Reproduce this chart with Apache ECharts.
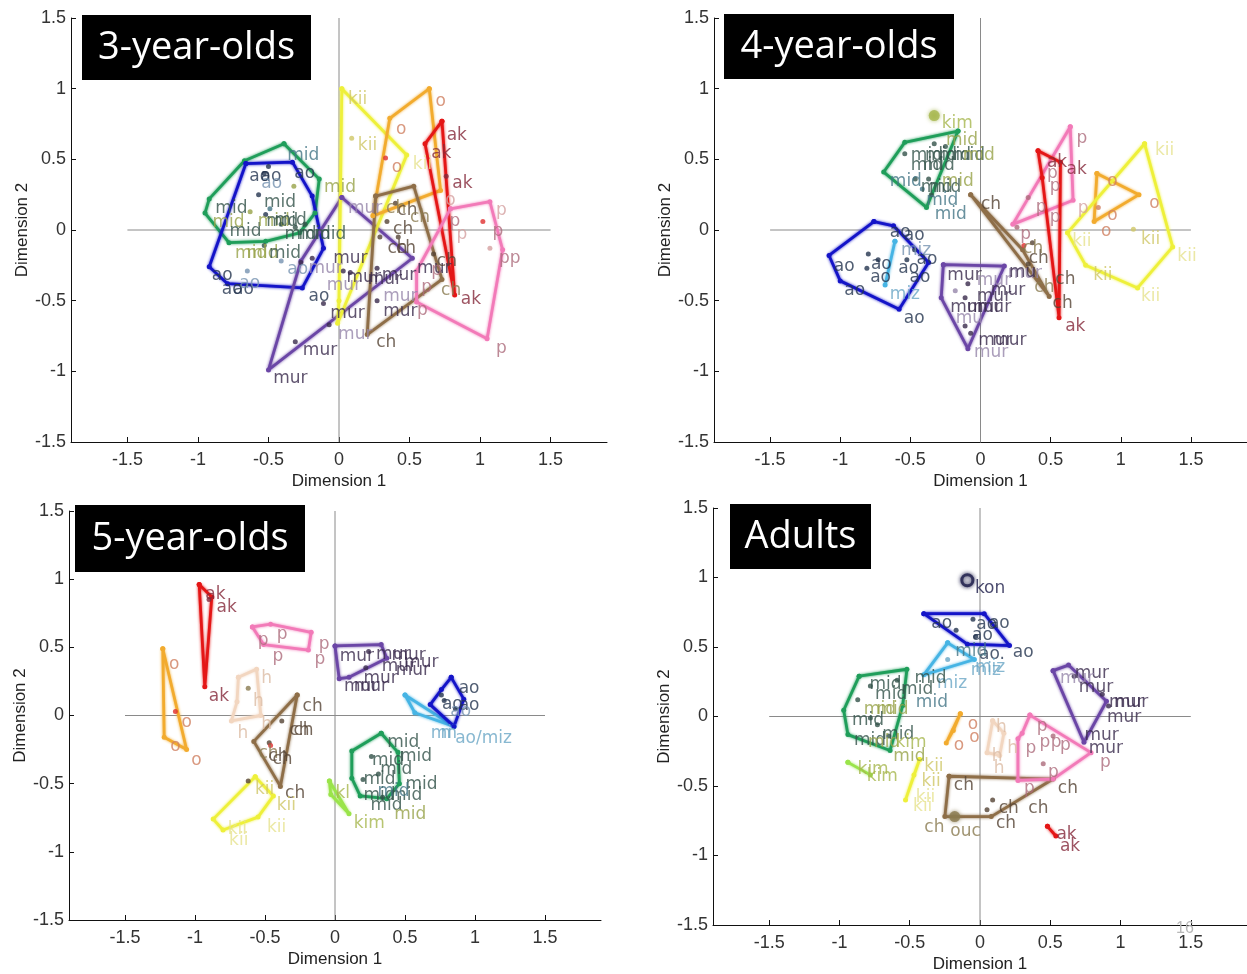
<!DOCTYPE html>
<html>
<head>
<meta charset="utf-8">
<title>MDS - 3/4/5-year-olds, Adults</title>
<style>
	html, body { margin: 0; padding: 0; background: #fff; }
	#main { width: 1247px; height: 974px; }
</style>
</head>
<body>
<div id="main"></div>
<script src="https://cdn.jsdelivr.net/npm/echarts@6/dist/echarts.min.js"></script>
<script>
	var tickVals = [-1.5, -1, -0.5, 0, 0.5, 1, 1.5];
	var panelTitles = ['3-year-olds', '4-year-olds', '5-year-olds', 'Adults'];

	// ---- 3-year-olds ----
	var hulls3 = [
		['mid', [[-0.39,0.61],[-0.14,0.36],[-0.17,0.12],[-0.28,-0.02],[-0.52,-0.08],[-0.78,-0.09],[-0.95,0.12],[-0.92,0.22],[-0.67,0.49]]],
		['ao', [[-0.66,0.47],[-0.33,0.48],[-0.19,0.24],[-0.11,-0.13],[-0.26,-0.41],[-0.79,-0.38],[-0.92,-0.26]]],
		['mur', [[0.02,0.23],[0.52,-0.20],[-0.50,-0.99],[-0.27,-0.22]]],
		['kii', [[0.02,1.0],[0.48,0.53],[-0.01,-0.66],[0.0,-0.5]]],
		['o', [[0.64,1.0],[0.36,0.79],[0.24,0.10],[0.72,0.28]]],
		['ak', [[0.73,0.77],[0.61,0.61],[0.82,-0.46]]],
		['ch', [[0.26,0.24],[0.53,0.31],[0.73,-0.35],[0.20,-0.74]]],
		['p', [[0.79,0.15],[1.07,0.20],[1.16,-0.14],[1.05,-0.77],[0.55,-0.51],[0.55,-0.29]]]
	];
	var dots3 = [
		[-0.50,0.45,'ao'],[-0.53,0.40,'ao'],[-0.57,0.25,'ao'],[-0.63,0.13,'mid2'],[-0.52,0.11,'ao'],[-0.49,0.15,'mid3'],
		[-0.32,0.31,'mid2'],[-0.41,0.04,'mid'],[-0.31,0.02,'mid'],[-0.24,0.04,'mid'],[-0.53,-0.11,'mid'],
		[-0.41,-0.22,'ao2'],[-0.65,-0.29,'ao2'],[-0.19,-0.20,'mur'],[-0.27,-0.23,'mur'],[-0.11,-0.52,'mur'],
		[-0.07,-0.67,'mur'],[-0.31,-0.79,'mur'],[0.09,0.65,'kii'],[0.33,0.51,'red'],[0.40,0.19,'ch'],[0.34,0.06,'ch'],
		[0.29,-0.05,'ch'],[0.42,-0.05,'ch'],[0.67,-0.17,'ch'],[0.76,0.38,'ak'],[1.02,0.06,'red'],[1.07,-0.13,'p2'],
		[0.27,-0.27,'mur'],[0.08,-0.30,'mur'],[0.03,-0.29,'mur'],[0.27,-0.50,'mur']
	];
	var big3 = [];
	var labels3 = [
		[-0.37,0.53,'mid','mid3'],[-0.64,0.38,'ao','ao'],[-0.56,0.38,'ao','ao'],[-0.32,0.40,'ao','ao'],[-0.555,0.33,'ao','ao2'],
		[-0.535,0.195,'mid','mid'],[-0.88,0.155,'mid','mid'],[-0.11,0.30,'mid','mid2'],[-0.90,0.05,'mid','mid2'],
		[-0.78,-0.01,'mid','mid'],[-0.58,0.06,'mid','mid2'],[-0.52,0.06,'mid','mid'],[-0.46,0.07,'mid','mid'],
		[-0.39,-0.03,'mid','mid'],[-0.29,-0.03,'mid','mid'],[-0.18,-0.03,'mid','mid'],
		[-0.74,-0.17,'mid','mid2'],[-0.66,-0.17,'mid','mid2'],[-0.50,-0.17,'mid','mid'],
		[-0.905,-0.32,'ao','ao'],[-0.835,-0.42,'ao','ao'],[-0.755,-0.42,'ao','ao'],[-0.71,-0.38,'ao','ao2'],
		[-0.37,-0.28,'ao','ao2'],[-0.22,-0.47,'ao','ao'],
		[-0.045,-0.20,'mur','mur'],[-0.065,-0.59,'mur','mur'],[-0.01,-0.74,'mur','mur2'],[-0.26,-0.85,'mur','mur'],
		[-0.47,-1.05,'mur','mur'],[-0.09,-0.39,'mur','mur2'],[0.05,-0.34,'mur','mur'],[0.20,-0.35,'mur','mur'],
		[0.30,-0.32,'mur','mur'],[0.31,-0.58,'mur','mur'],[0.31,-0.47,'mur','mur2'],[0.06,0.15,'mur','mur2'],
		[0.55,-0.27,'mur','mur'],[-0.22,-0.27,'mur','mur2'],
		[0.06,0.92,'kii','kii'],[0.13,0.60,'kii','kii'],[0.52,0.46,'kii','kii2'],
		[0.40,0.71,'o','o'],[0.37,0.44,'o','o'],[0.68,0.91,'o','o'],[0.75,0.21,'o','p2'],
		[0.76,0.67,'ak','ak'],[0.65,0.54,'ak','ak'],[0.80,0.33,'ak','ak'],[0.86,-0.49,'ak','ak'],
		[0.33,0.15,'ch','ch2'],[0.41,0.14,'ch','ch'],[0.38,0.005,'ch','ch'],[0.34,-0.13,'ch','ch'],[0.40,-0.13,'ch','ch'],
		[0.26,-0.80,'ch','ch'],[0.50,0.09,'ch','ch2'],[0.69,-0.22,'ch','ch'],[0.72,-0.43,'ch','ch2'],
		[1.11,0.135,'p','p2'],[1.085,-0.01,'p','p'],[1.13,-0.20,'pp','p'],[1.11,-0.84,'p','p'],[0.83,-0.03,'p','p2'],
		[0.58,-0.41,'p','p'],[0.55,-0.57,'p','p'],[0.78,0.06,'p','p'],[0.65,-0.29,'p','p']
	];

	// ---- 4-year-olds ----
	var hulls4 = [
		['mid', [[-0.16,0.70],[-0.54,0.62],[-0.69,0.41],[-0.385,0.16]]],
		['ao', [[-0.76,0.06],[-0.62,0.03],[-0.37,-0.23],[-0.58,-0.56],[-1.00,-0.36],[-1.08,-0.18]]],
		['miz', [[-0.61,-0.08],[-0.68,-0.39]]],
		['mur', [[-0.265,-0.245],[0.17,-0.255],[-0.09,-0.84],[-0.28,-0.48]]],
		['ch', [[-0.07,0.25],[0.49,-0.47],[0.30,-0.14]]],
		['p', [[0.64,0.73],[0.66,0.21],[0.23,0.04]]],
		['ak', [[0.41,0.56],[0.57,0.48],[0.56,-0.62],[0.44,0.37]]],
		['o', [[0.83,0.40],[1.13,0.25],[0.81,0.06]]],
		['kii', [[1.17,0.61],[1.37,-0.12],[1.12,-0.41],[0.75,-0.25],[0.62,-0.02]]]
	];
	var dots4 = [
		[-0.54,0.54,'mid'],[-0.33,0.61,'mid'],[-0.25,0.59,'mid'],[-0.465,0.36,'mid'],[-0.37,0.36,'mid'],[-0.415,0.29,'mid3'],[-0.35,0.25,'mid'],
		[-0.80,-0.17,'ao'],[-0.81,-0.27,'ao'],[-0.73,-0.21,'ao'],[-0.525,-0.21,'ao'],[-0.47,-0.14,'ao'],
		[-0.09,-0.38,'mur'],[-0.18,-0.43,'mur2'],[-0.11,-0.48,'mur'],[-0.11,-0.68,'mur'],[-0.07,-0.73,'mur'],
		[0.31,-0.11,'red'],[0.37,-0.09,'ch'],[0.34,-0.24,'ch'],[0.34,0.23,'p'],[0.26,0.02,'p'],
		[0.84,0.16,'o'],[1.09,0.005,'kii']
	];
	var big4 = [[-0.33,0.81,'kim']];
	var labels4 = [
		[-0.28,0.75,'kim','kim'],[-0.25,0.63,'mid','mid2'],[-0.50,0.53,'mid','mid'],[-0.40,0.53,'mid','mid'],
		[-0.30,0.53,'mid','mid'],[-0.20,0.53,'mid','mid'],[-0.13,0.53,'mid','mid2'],[-0.50,0.455,'mid','mid'],
		[-0.415,0.455,'mid','mid'],[-0.65,0.34,'mid','mid3'],[-0.43,0.30,'mid','mid'],[-0.28,0.34,'mid','mid2'],
		[-0.37,0.30,'mid','mid'],[-0.39,0.21,'mid','mid3'],[-0.33,0.11,'mid','mid3'],
		[0.0,0.18,'ch','ch'],
		[-0.65,-0.02,'ao','ao'],[-0.55,-0.04,'ao','ao'],[-0.57,-0.145,'miz','ao2'],[-0.46,-0.21,'ao','ao'],
		[-1.05,-0.26,'ao','ao'],[-0.785,-0.245,'ao','ao'],[-0.59,-0.27,'ao','ao'],[-0.79,-0.34,'ao','ao'],
		[-0.975,-0.43,'ao','ao'],[-0.65,-0.46,'miz','miz'],[-0.55,-0.625,'ao','ao'],[-0.51,-0.335,'ao','ao'],
		[-0.24,-0.32,'mur','mur'],[-0.03,-0.36,'mur','mur2'],[0.19,-0.31,'mur','mur2'],[-0.03,-0.47,'mur','mur'],
		[-0.22,-0.55,'mur','mur'],[-0.10,-0.55,'mur','mur'],[-0.03,-0.55,'mur','mur'],[-0.18,-0.63,'mu','mur2'],
		[-0.02,-0.78,'mur','mur'],[-0.05,-0.87,'mur','mur2'],[0.08,-0.78,'mur','mur'],[0.07,-0.43,'mur','mur'],
		[0.20,-0.30,'mu','mur'],
		[0.34,-0.20,'ch','ch'],[0.53,-0.35,'ch','ch'],[0.38,-0.41,'ch','ch2'],[0.51,-0.52,'ch','ch'],[0.30,-0.13,'ch','ch2'],
		[0.68,0.65,'p','p'],[0.49,0.31,'p','p'],[0.39,0.16,'p','p'],[0.69,0.15,'p','p2'],[0.49,0.09,'p','p'],
		[0.47,0.40,'p','p'],[0.28,-0.03,'p','p'],
		[0.47,0.48,'ak','ak'],[0.61,0.43,'ak','ak'],[0.60,-0.68,'ak','ak'],
		[0.90,0.34,'o','o'],[1.20,0.19,'o','o'],[0.90,0.10,'o','o'],[0.855,-0.01,'o','o'],
		[1.24,0.56,'kii','kii2'],[1.14,-0.07,'kii','kii'],[0.65,-0.08,'kii','kii2'],[1.40,-0.185,'kii','kii2'],
		[0.80,-0.32,'kii','kii'],[1.14,-0.47,'kii','kii2']
	];

	// ---- 5-year-olds ----
	var hulls5 = [
		['ak', [[-0.97,0.96],[-0.88,0.87],[-0.93,0.21]]],
		['o', [[-1.23,0.49],[-1.22,-0.16],[-1.06,-0.25]]],
		['p', [[-0.59,0.65],[-0.46,0.67],[-0.17,0.61],[-0.19,0.48],[-0.51,0.52]]],
		['h', [[-0.69,0.28],[-0.56,0.34],[-0.53,0.0],[-0.74,-0.04],[-0.70,0.10]]],
		['ch', [[-0.27,0.15],[-0.58,-0.19],[-0.39,-0.52]]],
		['kii', [[-0.57,-0.45],[-0.44,-0.59],[-0.55,-0.745],[-0.80,-0.84],[-0.87,-0.76]]],
		['kim', [[-0.04,-0.48],[0.10,-0.72],[-0.03,-0.58]]],
		['mur', [[0.0,0.51],[0.33,0.52],[0.37,0.42],[0.10,0.28],[0.03,0.27]]],
		['miz', [[0.50,0.15],[0.85,-0.08],[0.57,0.02]]],
		['ao', [[0.83,0.28],[0.92,0.12],[0.85,-0.08],[0.68,0.08],[0.76,0.19]]],
		['mid', [[0.33,-0.13],[0.45,-0.27],[0.46,-0.50],[0.37,-0.61],[0.18,-0.59],[0.12,-0.46],[0.12,-0.26]]]
	];
	var dots5 = [
		[-0.90,0.85,'ak'],[-1.14,0.03,'red'],[-0.62,0.20,'ch2'],[-0.38,-0.04,'ch'],[-0.47,-0.20,'ch'],[-0.46,-0.22,'red'],
		[-0.62,-0.48,'ch'],[0.24,0.47,'mur'],[0.22,0.35,'mur'],[0.76,0.15,'ao'],[0.78,0.11,'ao'],[0.86,0.05,'ao'],
		[0.26,-0.30,'mid'],[0.20,-0.47,'mid'],[0.31,-0.43,'mid'],[0.34,-0.60,'mid']
	];
	var big5 = [];
	var labels5 = [
		[-0.93,0.885,'ak','ak'],[-0.85,0.79,'ak','ak'],[-0.905,0.136,'ak','ak'],
		[-1.19,0.37,'o','o'],[-1.10,-0.055,'o','o'],[-1.18,-0.23,'o','o'],[-1.03,-0.33,'o','o'],
		[-0.555,0.55,'p','p'],[-0.42,0.59,'p','p'],[-0.45,0.43,'p','p'],[-0.12,0.52,'p','p'],[-0.15,0.41,'p','p'],
		[-0.53,0.27,'h','h'],[-0.59,0.10,'h','h'],[-0.53,-0.07,'h','h'],[-0.70,-0.13,'h','h'],
		[-0.235,0.064,'ch','ch'],[-0.33,-0.11,'ch','ch'],[-0.30,-0.11,'ch','ch'],[-0.55,-0.28,'ch','ch2'],
		[-0.45,-0.32,'ch','ch'],[-0.48,-0.30,'ch','ch'],[-0.36,-0.57,'ch','ch'],
		[-0.575,-0.54,'kii','kii'],[-0.42,-0.66,'kii','kii'],[-0.49,-0.82,'kii','kii2'],[-0.76,-0.92,'kii','kii2'],[-0.77,-0.84,'kii','kii2'],
		[0.0,-0.57,'kl','kim'],[0.13,-0.79,'kim','kim'],
		[0.37,-0.20,'mid','mid'],[0.46,-0.30,'mid','mid'],[0.26,-0.33,'mid','mid'],[0.32,-0.40,'mid','mid'],
		[0.20,-0.47,'mid','mid'],[0.50,-0.51,'mid','mid'],[0.39,-0.59,'mid','mid'],[0.20,-0.59,'mid','mid'],
		[0.25,-0.66,'mid','mid'],[0.42,-0.73,'mid','mid2'],[0.30,-0.56,'mid','mid3'],
		[0.03,0.43,'mur','mur'],[0.29,0.445,'mur','mur'],[0.40,0.44,'mur','mur'],[0.49,0.385,'mur','mur'],
		[0.43,0.33,'mur','mur'],[0.33,0.36,'mur','mur'],[0.20,0.27,'mur','mur'],[0.06,0.21,'mur','mur'],[0.13,0.21,'mur','mur'],
		[0.88,0.195,'ao','ao'],[0.88,0.07,'ao','ao'],[0.76,0.08,'ao','ao'],[0.82,0.03,'ao','ao2'],
		[0.855,-0.17,'ao/miz','miz'],[0.68,-0.13,'mi','miz'],[0.75,-0.13,'m','miz']
	];

	// ---- Adults ----
	var hullsA = [
		['ao', [[-0.40,0.74],[0.03,0.74],[0.21,0.51],[-0.09,0.52]]],
		['miz', [[-0.23,0.53],[-0.40,0.30],[-0.04,0.41]]],
		['mid', [[-0.86,0.29],[-0.52,0.34],[-0.55,0.08],[-0.64,-0.245],[-0.94,-0.13],[-0.97,0.045]]],
		['kim', [[-0.94,-0.33],[-0.78,-0.42]]],
		['o', [[-0.14,0.02],[-0.24,-0.19],[-0.19,-0.10]]],
		['kii', [[-0.43,-0.31],[-0.53,-0.60],[-0.47,-0.42]]],
		['h', [[0.09,-0.03],[0.17,-0.12],[0.14,-0.28],[0.05,-0.26]]],
		['ch', [[-0.22,-0.43],[0.52,-0.45],[0.08,-0.72],[-0.25,-0.72]]],
		['p', [[0.355,0.01],[0.79,-0.26],[0.52,-0.45],[0.27,-0.46],[0.27,-0.16],[0.30,-0.12]]],
		['mur', [[0.52,0.33],[0.63,0.37],[0.90,0.11],[0.74,-0.185]]],
		['ak', [[0.48,-0.79],[0.54,-0.86]]]
	];
	var dotsA = [
		[-0.17,0.62,'ao'],[-0.05,0.70,'ao'],[-0.03,0.575,'ao'],[-0.23,0.41,'miz'],
		[-0.78,0.22,'mid'],[-0.59,0.26,'mid'],[-0.87,0.12,'mid'],[-0.73,-0.06,'mid'],[-0.78,-0.01,'mid'],[-0.65,-0.14,'mid'],
		[0.09,-0.60,'ch'],[0.05,-0.67,'ch'],[0.52,-0.14,'p'],[0.45,-0.34,'p'],
		[0.67,0.29,'mur'],[0.87,0.16,'mur'],[0.915,0.076,'mur']
	];
	var bigA = [[-0.09,0.98,'kon'],[-0.18,-0.72,'ch2']];
	var labelsA = [
		[-0.04,0.92,'kon','kon'],
		[-0.35,0.67,'ao','ao'],[-0.03,0.66,'ao','ao'],[0.06,0.67,'ao','ao'],[-0.06,0.58,'ao','ao'],[0.23,0.46,'ao','ao'],[-0.01,0.445,'ao.','ao'],
		[-0.18,0.47,'mid','mid3'],[-0.04,0.35,'miz','miz'],[-0.07,0.33,'miz','miz'],[-0.31,0.24,'miz','miz'],
		[-0.79,0.23,'mid','mid'],[-0.47,0.27,'mid','mid'],[-0.75,0.16,'mid','mid'],[-0.565,0.195,'mid','mid'],
		[-0.46,0.10,'mid','mid3'],[-0.83,0.05,'mid','mid2'],[-0.74,0.05,'mid','mid2'],[-0.915,-0.03,'mid','mid'],
		[-0.70,-0.13,'mid','mid'],[-0.90,-0.17,'mid','mid'],[-0.80,-0.19,'mid','mid2'],[-0.62,-0.29,'mid','mid2'],
		[-0.605,-0.19,'kim','kim'],[-0.875,-0.38,'kim','kim'],[-0.81,-0.435,'kim','kim'],
		[-0.40,-0.36,'kii','kii'],[-0.42,-0.47,'kii','kii'],[-0.46,-0.58,'kii','kii2'],[-0.48,-0.65,'kii','kii2'],
		[-0.09,-0.055,'o','o'],[-0.08,-0.15,'o','o'],[-0.19,-0.21,'o','o'],
		[0.11,-0.08,'h','h'],[0.19,-0.23,'h','h'],[0.08,-0.29,'h','h'],[0.095,-0.375,'h','h'],
		[-0.19,-0.495,'ch','ch'],[0.55,-0.52,'ch','ch'],[0.34,-0.66,'ch','ch'],[0.13,-0.66,'ch','ch'],
		[0.11,-0.77,'ch','ch'],[-0.40,-0.80,'ch','ch2'],[-0.215,-0.83,'ouc','ch2'],
		[0.40,-0.07,'p','p'],[0.32,-0.23,'p','p'],[0.42,-0.19,'p','p'],[0.50,-0.19,'p','p'],[0.565,-0.21,'p','p'],
		[0.48,-0.40,'p','p'],[0.31,-0.52,'p','p'],[0.85,-0.33,'p','p'],
		[0.67,0.31,'mur','mur'],[0.565,0.27,'mur','mur2'],[0.70,0.21,'mur','mur'],[0.915,0.10,'mur','mur'],
		[0.95,0.10,'mur','mur'],[0.90,-0.01,'mur','mur'],[0.74,-0.14,'mur','mur'],[0.77,-0.23,'mur','mur'],
		[0.54,-0.85,'ak','ak'],[0.565,-0.935,'ak','ak']
	];

	var hullColor = {
		mid: '#1f9e5a', ao: '#1414c8', mur: '#6b46a6', kii: '#eef03a', o: '#f2ab2e', ak: '#e41616',
		ch: '#8e6e48', p: '#f27ab8', miz: '#46b4e4', kim: '#9ae44a', h: '#f2d6c0'
	};
	var inkColor = {
		mid: '#33524a', mid2: '#97a348', mid3: '#437686', ao: '#24344f', ao2: '#7692b0',
		mur: '#3a2a4c', mur2: '#9686aa', kii: '#cfc766', kii2: '#e6e28e', o: '#d08060',
		ak: '#85283a', ch: '#554434', ch2: '#8a7a50', p: '#ac6c7c', p2: '#d4a0a0',
		miz: '#6aa6c6', kim: '#a6b64e', h: '#dcbca4', kon: '#1c1c48', red: '#e03030'
	};

	var grids = [
		{left: 71, top: 18, width: 536, height: 424},
		{left: 714, top: 18, width: 536, height: 424},
		{left: 69, top: 511, width: 532, height: 409},
		{left: 713, top: 508, width: 537, height: 424}
	];
	var titleBoxes = [[82, 15, 229, 65], [724, 14, 230, 65], [75, 505, 230, 67], [730, 504, 141, 65]];
	var axisFont = 'Liberation Sans Narrow, Liberation Sans, sans-serif';

	function panelSeries(k, hulls, dots, big, labels) {
		var s = [];
		// 十字线
		s.push({type: 'line', xAxisIndex: k, yAxisIndex: k, data: [[-1.5, 0], [1.5, 0]], symbol: 'none',
			lineStyle: {color: '#8a8a8a', width: 1}, silent: true, z: 1});
		s.push({type: 'line', xAxisIndex: k, yAxisIndex: k, data: [[0, -1.5], [0, 1.5]], symbol: 'none',
			lineStyle: {color: '#8a8a8a', width: 1}, silent: true, z: 1});
		hulls.forEach(function (h) {
			var c = hullColor[h[0]];
			s.push({type: 'line', xAxisIndex: k, yAxisIndex: k, data: h[1].concat([h[1][0]]),
				symbol: 'circle', symbolSize: 5, showAllSymbol: true, silent: true, z: 3,
				itemStyle: {color: c}, lineStyle: {color: c, width: 2.8, shadowColor: c, shadowBlur: 3}});
		});
		s.push({type: 'scatter', xAxisIndex: k, yAxisIndex: k, symbolSize: 5, silent: true, z: 4,
			data: dots.map(function (d) { return {value: [d[0], d[1]], itemStyle: {color: inkColor[d[2]]}}; })});
		s.push({type: 'scatter', xAxisIndex: k, yAxisIndex: k, symbolSize: 11, silent: true, z: 4,
			data: big.map(function (d) {
				var c = inkColor[d[2]] || hullColor[d[2]];
				return {value: [d[0], d[1]], itemStyle: {color: d[2] === 'kon' ? '#fff' : c, borderColor: c, borderWidth: d[2] === 'kon' ? 3 : 0, shadowColor: c, shadowBlur: 4}};
			})});
		s.push({type: 'scatter', xAxisIndex: k, yAxisIndex: k, symbolSize: 1, silent: true, z: 5,
			itemStyle: {color: 'rgba(0,0,0,0)'},
			label: {show: true, position: 'right', distance: 0, fontSize: 17, fontFamily: 'DejaVu Sans',
				formatter: function (p) { return p.data.text; }},
			data: labels.map(function (d) {
				return {value: [d[0], d[1]], text: d[2], label: {color: inkColor[d[3]]}};
			})});
		return s;
	}

	var myChart = echarts.init(document.getElementById('main'));
	var xAxes = [], yAxes = [], series = [], graphic = [];
	var sets = [[hulls3, dots3, big3, labels3], [hulls4, dots4, big4, labels4], [hulls5, dots5, big5, labels5], [hullsA, dotsA, bigA, labelsA]];

	grids.forEach(function (g, k) {
		xAxes.push({
			gridIndex: k, type: 'value', min: -1.9, max: 1.9,
			name: 'Dimension 1', nameLocation: 'middle', nameGap: 31,
			nameTextStyle: {fontSize: 17, color: '#222', fontFamily: axisFont},
			axisLine: {onZero: false, lineStyle: {color: '#111', width: 1}},
			axisTick: {inside: true, length: 5, customValues: tickVals, lineStyle: {color: '#111'}},
			axisLabel: {customValues: tickVals, fontSize: 18, color: '#333', margin: 9, fontFamily: axisFont},
			splitLine: {show: false}
		});
		yAxes.push({
			gridIndex: k, type: 'value', min: -1.5, max: 1.5, interval: 0.5,
			name: 'Dimension 2', nameLocation: 'middle', nameGap: 39,
			nameTextStyle: {fontSize: 17, color: '#222', fontFamily: axisFont},
			axisLine: {onZero: false, lineStyle: {color: '#111', width: 1}},
			axisTick: {inside: true, length: 5, lineStyle: {color: '#111'}},
			axisLabel: {fontSize: 18, color: '#333', margin: 5, fontFamily: axisFont},
			splitLine: {show: false}
		});
		series = series.concat(panelSeries(k, sets[k][0], sets[k][1], sets[k][2], sets[k][3]));
		var b = titleBoxes[k];
		graphic.push({type: 'rect', left: b[0], top: b[1], shape: {width: b[2], height: b[3]}, style: {fill: '#000'}, z: 10});
		graphic.push({type: 'text', x: b[0] + b[2] / 2, y: b[1] + b[3] / 2 + 1, z: 11,
			style: {text: panelTitles[k], fill: '#fff', font: '38px "Open Sans"', align: 'center', verticalAlign: 'middle'}});
	});
	graphic.push({type: 'text', x: 1176, y: 921, z: 11, style: {text: '16', fill: '#b8b8b8', font: '16px "Liberation Sans"'}});

	myChart.setOption({
		backgroundColor: '#fff',
		animation: false,
		grid: grids,
		xAxis: xAxes,
		yAxis: yAxes,
		series: series,
		graphic: graphic
	});
</script>
</body>
</html>
